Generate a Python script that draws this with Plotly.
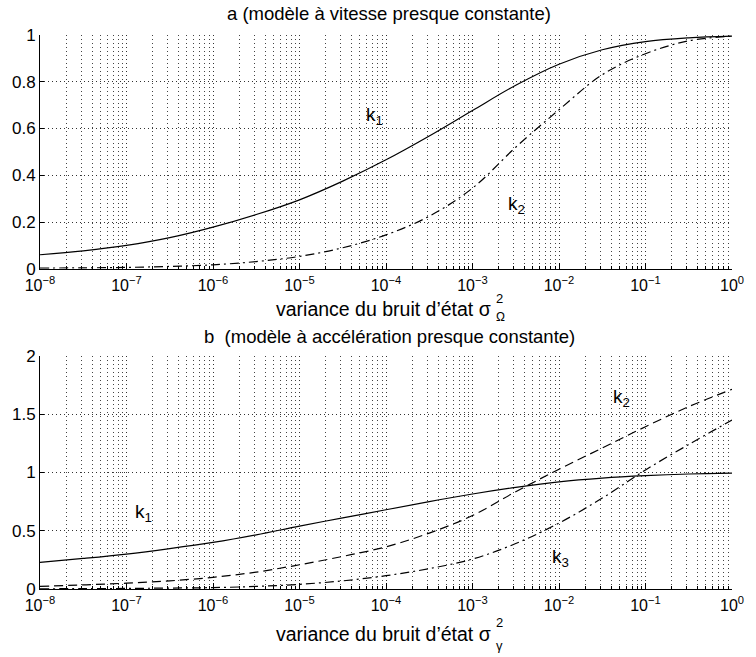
import plotly.graph_objects as go
from plotly.subplots import make_subplots

# log10 of state-noise variance
log_var = [-8, -7.5, -7, -6.5, -6, -5.5, -5, -4.5, -4, -3.5, -3, -2.5, -2, -1.5, -1, -0.5, 0]

# panel a : constant-velocity model
a_k1 = [0.060, 0.077, 0.100, 0.133, 0.178, 0.232, 0.295, 0.375, 0.466, 0.568, 0.677, 0.785, 0.875, 0.937, 0.972, 0.988, 0.995]
a_k2 = [0.003, 0.004, 0.006, 0.010, 0.017, 0.031, 0.053, 0.090, 0.145, 0.225, 0.345, 0.520, 0.680, 0.830, 0.920, 0.975, 0.995]

# panel b : constant-acceleration model
b_k1 = [0.228, 0.262, 0.300, 0.347, 0.400, 0.465, 0.540, 0.610, 0.680, 0.750, 0.815, 0.872, 0.920, 0.952, 0.973, 0.987, 0.994]
b_k2 = [0.023, 0.035, 0.050, 0.070, 0.100, 0.145, 0.208, 0.280, 0.362, 0.480, 0.630, 0.835, 1.028, 1.210, 1.393, 1.565, 1.714]
b_k3 = [0.002, 0.003, 0.005, 0.008, 0.012, 0.022, 0.040, 0.070, 0.114, 0.175, 0.257, 0.390, 0.566, 0.780, 1.022, 1.240, 1.450]

x_vals = [10 ** d for d in log_var]

major_exp = list(range(-8, 1))
x_tickvals = [10.0 ** e for e in major_exp]
x_ticktext = ["10<sup>%s</sup>" % (str(e).replace("-", "−")) for e in major_exp]
x_minor = [m * 10.0 ** e for e in range(-8, 0) for m in range(2, 10)]

top_ticks = [0, 0.2, 0.4, 0.6, 0.8, 1]
bot_ticks = [0, 0.5, 1, 1.5, 2]

FONT = "Liberation Sans, Arial, Helvetica, sans-serif"
DOTS = "1px,3px"

fig = make_subplots(rows=2, cols=1, vertical_spacing=0.1573)

def line(y, dash, row):
    fig.add_trace(go.Scatter(x=x_vals, y=y, mode="lines",
                             line=dict(color="black", width=1.2, dash=dash, shape="spline", smoothing=1.0),
                             showlegend=False, hoverinfo="skip"), row=row, col=1)

line(a_k1, "solid", 1)
line(a_k2, "9px,4px,2px,4px", 1)
line(b_k1, "solid", 2)
line(b_k2, "9px,5px", 2)
line(b_k3, "9px,4px,2px,4px", 2)

xaxis_common = dict(
    type="log", range=[-8, 0], tickmode="array", tickvals=x_tickvals, ticktext=x_ticktext,
    showgrid=True, gridcolor="#333", griddash=DOTS, gridwidth=1,
    ticks="inside", ticklen=6, tickcolor="black", ticklabelstandoff=2,
    minor=dict(tickmode="array", tickvals=x_minor, ticks="inside", ticklen=3, tickcolor="black",
               showgrid=True, gridcolor="#444", griddash=DOTS, gridwidth=1),
    showline=True, linecolor="black", linewidth=1, mirror=False, zeroline=False,
    tickfont=dict(family=FONT, size=16, color="black"),
)
fig.update_xaxes(**xaxis_common)

yaxis_common = dict(
    showgrid=True, gridcolor="#333", griddash=DOTS, gridwidth=1,
    ticks="inside", ticklen=4, tickcolor="black",
    showline=True, linecolor="black", linewidth=1, zeroline=False,
    tickfont=dict(family=FONT, size=17, color="black"),
)
fig.update_yaxes(range=[0, 1], tickvals=top_ticks, ticktext=["0", "0.2", "0.4", "0.6", "0.8", "1"], row=1, col=1, **yaxis_common)
fig.update_yaxes(range=[0, 2], tickvals=bot_ticks, ticktext=["0", "0.5", "1", "1.5", "2"], row=2, col=1, **yaxis_common)

fig.update_layout(
    width=756, height=657,
    margin=dict(l=39, r=14, t=35, b=68),
    paper_bgcolor="white", plot_bgcolor="white",
    font=dict(family=FONT, size=17, color="black"),
)
fig.update_yaxes(domain=[0.578, 1.0], row=1, col=1)
fig.update_yaxes(domain=[0.0, 0.4207], row=2, col=1)

ann = []
def label(text, d, y, xref, yref):
    ann.append(dict(text=text, x=d, y=y, xref=xref, yref=yref, showarrow=False,
                    font=dict(family=FONT, size=19, color="black")))

label("k<sub>1</sub>", -4.13, 0.655, "x", "y")
label("k<sub>2</sub>", -2.49, 0.275, "x", "y")
label("k<sub>1</sub>", -6.80, 0.655, "x2", "y2")
label("k<sub>2</sub>", -1.28, 1.635, "x2", "y2")
label("k<sub>3</sub>", -1.98, 0.265, "x2", "y2")

def ptext(text, x, y, xanchor="center", size=18.5):
    ann.append(dict(text=text, x=x, y=y, xref="paper", yref="paper", showarrow=False,
                    xanchor=xanchor, yanchor="middle", font=dict(family=FONT, size=size, color="black")))

ptext("a (modèle à vitesse presque constante)", 0.505, 1.038)
ptext("b  (modèle à accélération presque constante)", 0.505, 0.4555)

# x-axis labels with stacked super/subscript
ptext("variance du bruit d’état σ", 0.6545, 0.5055, "right", 19.5)
ptext("2", 0.6565, 0.525, "left", 13)
ptext("Ω", 0.6560, 0.4915, "left", 12)

ptext("variance du bruit d’état σ", 0.6545, -0.081, "right", 19.5)
ptext("2", 0.6565, -0.060, "left", 13)
ptext("γ", 0.6565, -0.102, "left", 13)

fig.update_layout(annotations=ann)

fig.write_html("out.html")
